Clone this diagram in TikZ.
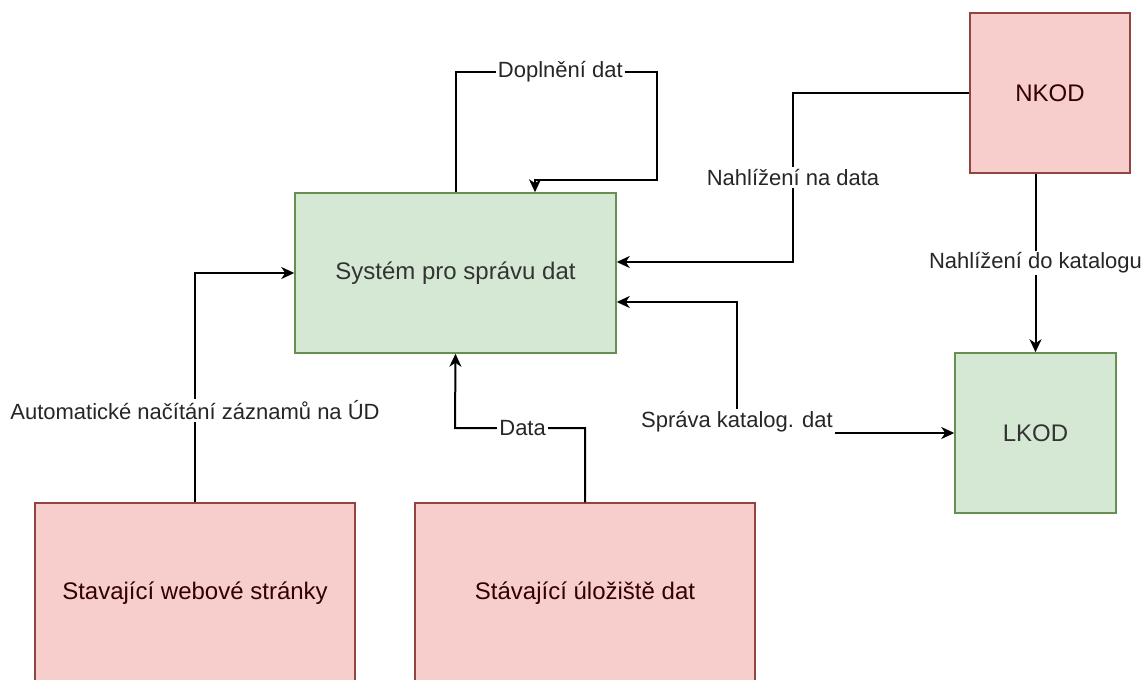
\documentclass[tikz,border=0pt]{standalone}
\usepackage{fontspec}
\setmainfont{Liberation Sans}
\usetikzlibrary{arrows.meta,positioning}

\definecolor{boxgreen}{HTML}{D5E8D4}
\definecolor{linegreen}{HTML}{82B366}
\definecolor{boxred}{HTML}{F8CECC}
\definecolor{linered}{HTML}{B85450}

\tikzset{
	green box/.style={rectangle,draw=linegreen!80!black,fill=boxgreen,line width=0.75pt,
		text=black!80,font=\fontsize{12}{14}\selectfont},
	red box/.style={rectangle,draw=linered!80!black,fill=boxred,line width=0.75pt,
		text=black!80!red,font=\fontsize{12}{14}\selectfont},
	lbl/.style={fill=white,inner sep=1pt,text=black!85,font=\fontsize{11}{13}\selectfont},
	flow/.style={->,line width=1pt},
	flowboth/.style={<->,line width=1pt}
}

\begin{document}
\begin{tikzpicture}[x=0.5pt,y=-0.5pt]
		\clip (0,0) rectangle (1144,679);
		\begin{scope}
			\node[green box,minimum width=160.5pt,minimum height=80pt] (sys) at (455.5,273) {Systém pro správu dat};
			\node[red box,minimum width=80pt,minimum height=80pt] (nkod) at (1050,93) {NKOD};
			\node[green box,minimum width=80.5pt,minimum height=80pt] (lkod) at (1035.5,433) {LKOD};

			\node[red box,minimum width=160pt,minimum height=90pt] (web) at (195,593) {Stavající webové stránky};
			\node[red box,minimum width=170pt,minimum height=90pt] (ulo) at (585,593) {Stávající úložiště dat};
		\end{scope}
		\coordinate (dopl) at (535,180);
		\coordinate (nd) at (793,262);
		\coordinate (sk) at (737,302);
		\coordinate (dt) at (455,428);
		\begin{scope}[>={Stealth[length=6.5pt,width=6pt,inset=2pt]}]
			\draw[flow] (sys.north) |- node[lbl,pos=0.76] {Doplnění dat} (657,72) |- (dopl) -- (dopl |- sys.north);
			\draw[flow] (nkod.west) -| node[lbl,pos=0.75] {Nahlížení na data} (nd) -- (sys.east |- nd);
			\draw[flow] (lkod.north |- nkod.south) -- node[lbl] {Nahlížení do katalogu} (lkod.north);
			\draw[flowboth] (sys.east |- sk) -- (sk) |- node[lbl,pos=0.455] {Správa katalog. dat} (lkod.west);

			\draw[flow] (web.north) |- node[lbl,pos=0.2] {Automatické načítání záznamů na ÚD} (sys.west);
			\draw[flow] (ulo.north) |- node[lbl,pos=0.74] {Data} (dt) -- (sys.south);
		\end{scope}
	\end{tikzpicture}
\end{document}
